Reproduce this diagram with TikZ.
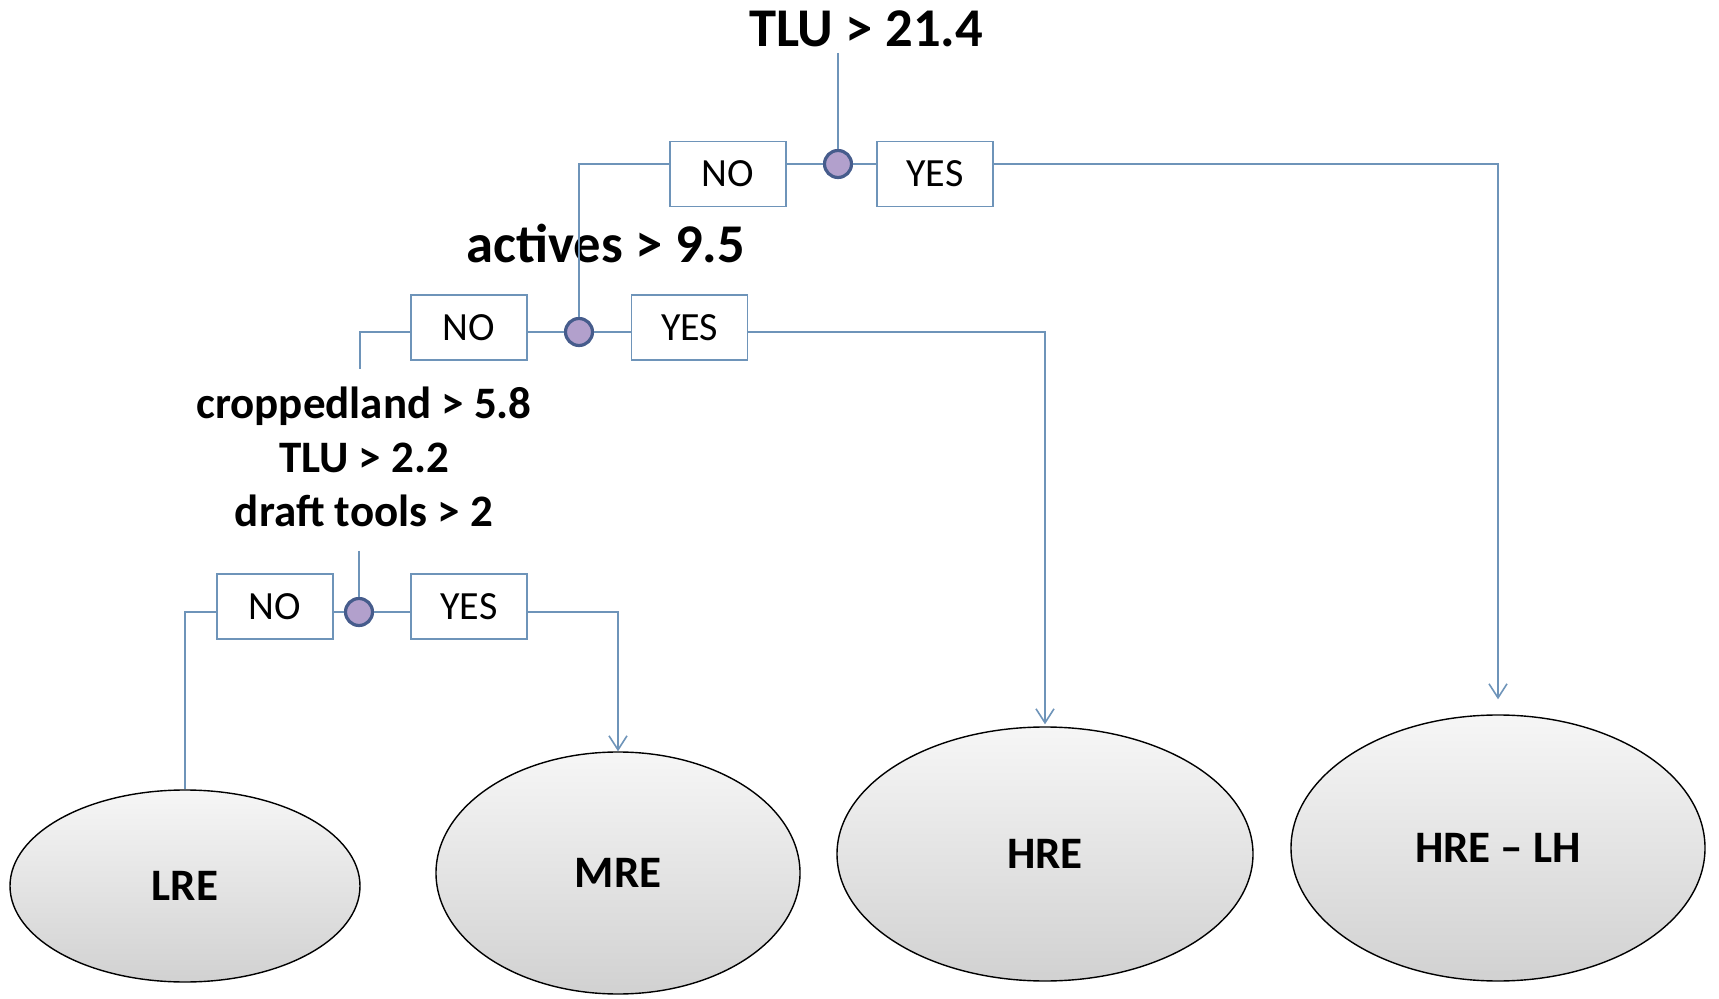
\documentclass[tikz,border=0pt]{standalone}
\usepackage{fontspec}
\setmainfont{Carlito}
\usetikzlibrary{arrows.meta,shapes.geometric}
\definecolor{linea}{RGB}{110,148,185}
\definecolor{nodofill}{RGB}{178,160,204}
\definecolor{nodobordo}{RGB}{70,92,140}

\begin{document}
\begin{tikzpicture}[
        x=0.5pt, y=-0.5pt,
        >={Straight Barb[length=7pt,width=9pt,line width=0.8pt]},
        % Stile dei collegamenti
        wire/.style={draw=linea, line width=0.8pt},
        % Caselle NO / YES
        ans/.style={
            draw=linea,
            line width=0.8pt,
            minimum width=58pt,
            minimum height=32.5pt,
            inner sep=0pt,
            font=\fontsize{20}{22}\selectfont
        },
        % Nodo di decisione
        knot/.style={
            circle,
            draw=nodobordo,
            fill=nodofill,
            line width=1.6pt,
            minimum size=13.5pt,
            inner sep=0pt
        },
        % Condizioni
        cond/.style={font=\bfseries\fontsize{27.3}{30}\selectfont, inner sep=0pt, anchor=base},
        % Foglie (classi)
        leaf/.style={
            ellipse,
            draw=black,
            line width=0.7pt,
            top color=gray!7,
            bottom color=gray!36,
            inner sep=0pt,
            font=\bfseries\fontsize{22.5}{25}\selectfont
        }
    ]
    \useasboundingbox (0,0) rectangle (1719,999);

    % --- Livello 1 ---
    \node[cond] (t1) at (866,47) {TLU > 21.4};
    \node[knot] (k1) at (838,164) {};
    \node[ans] (n1) at (728,174) {NO};
    \node[ans] (y1) at (935,174) {YES};

    % --- Livello 2 ---
    \node[cond] (t2) at (606,263) {actives > 9.5};
    \node[knot] (k2) at (579,332) {};
    \node[ans] (n2) at (469,327.5) {NO};
    \node[ans] (y2) at (689.5,327.5) {YES};

    % --- Livello 3 ---
    \node[inner sep=0pt, align=center, anchor=base,
          font=\bfseries\fontsize{22.5}{27}\selectfont] (t3) at (364,527)
          {croppedland > 5.8\\TLU > 2.2\\draft tools > 2};
    \coordinate (c2) at (360,369);
    \coordinate (c3) at (359,551);
    \node[knot] (k3) at (359,612) {};
    \node[ans] (n3) at (275,606.5) {NO};
    \node[ans] (y3) at (469,606.5) {YES};

    % --- Foglie ---
    \node[leaf, minimum width=175pt, minimum height=96pt] (lre) at (185,886) {LRE};
    \node[leaf, minimum width=182pt, minimum height=121pt] (mre) at (618,873) {MRE};
    \node[leaf, minimum width=208pt, minimum height=127pt] (hre) at (1045,854) {HRE};
    \node[leaf, minimum width=207pt, minimum height=133pt] (hrelh) at (1498,848) {HRE -- LH};

    % --- Collegamenti ---
    \draw[wire] (t1.south -| k1) ++(0,5) -- (k1);
    \draw[wire] (k1) -- (n1.east |- k1);
    \draw[wire] (k1) -- (y1.west |- k1);
    \draw[wire] (n1.west |- k1) -| (k2);
    \draw[wire,->,shorten >=7.5pt] (y1.east |- k1) -| (hrelh.north);

    \draw[wire] (k2) -- (n2.east |- k2);
    \draw[wire] (k2) -- (y2.west |- k2);
    \draw[wire] (n2.west |- k2) -| (c2);
    \draw[wire,->,shorten >=1pt] (y2.east |- k2) -| (hre.north);

    \draw[wire] (c3) -- (k3);
    \draw[wire] (k3) -- (n3.east |- k3);
    \draw[wire] (k3) -- (y3.west |- k3);
    \draw[wire] (n3.west |- k3) -| (lre.north);
    \draw[wire,->] (y3.east |- k3) -| (mre.north);

\end{tikzpicture}
\end{document}
